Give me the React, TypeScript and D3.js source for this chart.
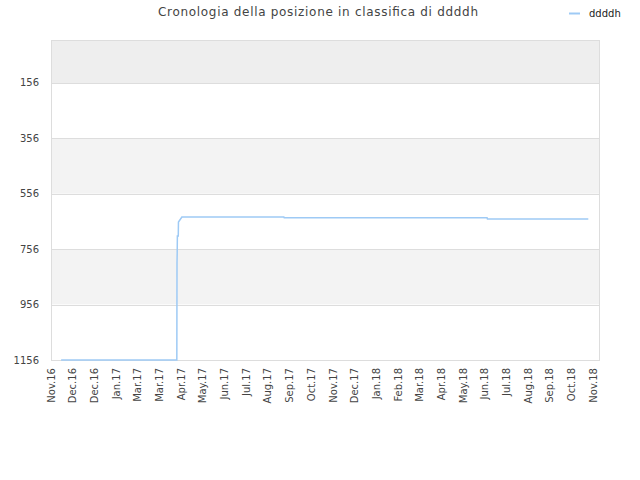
import React, { useEffect, useRef } from 'react';
import * as d3 from 'd3';

const title = 'Cronologia della posizione in classifica di ddddh';
const seriesName = 'ddddh';

// ticks every 30 days starting from the first one
const tickStart = '2016-11-01';
const tickStepDays = 30;
const tickLabels = [
  'Nov.16', 'Dec.16', 'Dec.16', 'Jan.17', 'Mar.17', 'Mar.17', 'Apr.17', 'May.17', 'Jun.17',
  'Jul.17', 'Aug.17', 'Sep.17', 'Oct.17', 'Nov.17', 'Dec.17', 'Jan.18', 'Feb.18', 'Mar.18',
  'Apr.18', 'May.18', 'Jun.18', 'Jul.18', 'Aug.18', 'Sep.18', 'Oct.18', 'Nov.18',
];
const xEnd = '2018-11-30T04:00';

const yTicks = [156, 356, 556, 756, 956, 1156];
const yDomain = [1, 1156];

const dates = [
  '2016-11-15', '2017-04-24', '2017-04-24T06:00', '2017-04-24T12:00', '2017-04-24T18:00',
  '2017-04-26', '2017-04-26T06:00', '2017-05-01', '2017-09-19', '2017-09-19T12:00',
  '2018-06-27', '2018-06-27T12:00', '2018-11-14',
];
const positions = [1156, 1156, 806, 773, 708, 708, 658, 640, 640, 643, 643, 647, 647];

const W = 640;
const H = 480;
const margin = { top: 40, right: 40, bottom: 120, left: 51 };

const App: React.FC = () => {
  const svgRef = useRef<SVGSVGElement | null>(null);

  useEffect(() => {
    if (!svgRef.current) return;
    const svg = d3.select(svgRef.current);
    svg.selectAll('*').remove();

    const font = '"DejaVu Sans", sans-serif';
    const startDate = new Date(tickStart + 'T00:00');
    const tickDates = tickLabels.map((_, i) => d3.timeDay.offset(startDate, i * tickStepDays));

    const x = d3.scaleTime()
      .domain([startDate, new Date(xEnd)])
      .range([margin.left, W - margin.right]);

    const y = d3.scaleLinear()
      .domain(yDomain)
      .range([margin.top, H - margin.bottom]);

    // alternating bands
    const bandEdges = [yDomain[0], ...yTicks];
    const bands = svg.append('g');
    for (let i = 0; i < bandEdges.length - 1; i++) {
      const fill = i === 0 ? '#eeeeee' : i % 2 === 0 ? '#f3f3f3' : '#ffffff';
      bands.append('rect')
        .attr('x', margin.left)
        .attr('y', y(bandEdges[i]))
        .attr('width', W - margin.right - margin.left)
        .attr('height', y(bandEdges[i + 1]) - y(bandEdges[i]))
        .attr('fill', fill);
    }

    // horizontal grid
    svg.append('g')
      .selectAll('line')
      .data(yTicks)
      .join('line')
      .attr('x1', margin.left)
      .attr('x2', W - margin.right)
      .attr('y1', d => Math.round(y(d)) + 0.5)
      .attr('y2', d => Math.round(y(d)) + 0.5)
      .attr('stroke', '#dddddd');

    // frame
    svg.append('rect')
      .attr('x', margin.left + 0.5)
      .attr('y', margin.top + 0.5)
      .attr('width', W - margin.right - margin.left - 1)
      .attr('height', H - margin.bottom - margin.top)
      .attr('fill', 'none')
      .attr('stroke', '#dddddd');

    // y labels
    svg.append('g')
      .selectAll('text')
      .data(yTicks)
      .join('text')
      .attr('x', margin.left - 12)
      .attr('y', d => y(d))
      .attr('dy', '0.35em')
      .attr('text-anchor', 'end')
      .style('font', `10px ${font}`)
      .attr('fill', '#444')
      .text(d => d);

    // x labels
    svg.append('g')
      .selectAll('text')
      .data(tickDates)
      .join('text')
      .attr('transform', d => `translate(${x(d)},${H - margin.bottom + 8}) rotate(-90)`)
      .attr('dy', '0.35em')
      .attr('text-anchor', 'end')
      .style('font', `10px ${font}`)
      .attr('fill', '#444')
      .text((_, i) => tickLabels[i]);

    // series
    const pts = dates.map((d, i) => ({ date: new Date(d.includes('T') ? d : d + 'T00:00'), v: positions[i] }));
    const line = d3.line<{ date: Date; v: number }>()
      .x(d => x(d.date))
      .y(d => y(d.v));

    svg.append('path')
      .datum(pts)
      .attr('fill', 'none')
      .attr('stroke', '#9ecaf5')
      .attr('stroke-width', 1.5)
      .attr('d', line);

    // title
    svg.append('text')
      .attr('x', 158)
      .attr('y', 16)
      .attr('textLength', 320)
      .attr('lengthAdjust', 'spacing')
      .style('font', `12px ${font}`)
      .attr('fill', '#444')
      .text(title);

    // legend
    svg.append('line')
      .attr('x1', 569)
      .attr('x2', 580)
      .attr('y1', 13.5)
      .attr('y2', 13.5)
      .attr('stroke', '#9ecaf5')
      .attr('stroke-width', 2);
    svg.append('text')
      .attr('x', 589)
      .attr('y', 17)
      .style('font', `10px ${font}`)
      .attr('fill', '#222')
      .text(seriesName);
  }, []);

  return (
    <svg
      ref={svgRef}
      width={W}
      height={H}
      style={{ position: 'absolute', left: 0, top: 0, background: '#fff' }}
    />
  );
};

export default App;
